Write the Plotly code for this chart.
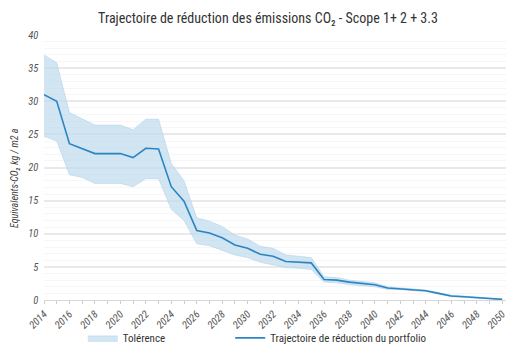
import plotly.graph_objects as go

years = list(range(2014, 2051))
trajectory = [31.0, 30.0, 23.6, 22.9, 22.1, 22.1, 22.1, 21.5, 22.9, 22.8,
              17.1, 14.9, 10.5, 10.1, 9.4, 8.3, 7.8, 6.9, 6.6, 5.8,
              5.7, 5.6, 3.1, 3.0, 2.7, 2.5, 2.3, 1.8, 1.7, 1.5,
              1.4, 1.0, 0.6, 0.5, 0.35, 0.2, 0.1]
upper = [37.0, 35.8, 28.3, 27.4, 26.4, 26.4, 26.4, 25.7, 27.3, 27.3,
         20.6, 18.0, 12.4, 11.9, 11.1, 9.8, 9.2, 8.1, 7.8, 6.8,
         6.6, 6.4, 3.5, 3.4, 3.0, 2.8, 2.6, 2.0, 1.8, 1.6,
         1.5, 1.1, 0.7, 0.6, 0.4, 0.25, 0.15]
lower = [24.7, 24.0, 18.9, 18.5, 17.6, 17.6, 17.6, 17.1, 18.3, 18.3,
         13.7, 12.0, 8.5, 8.2, 7.5, 6.8, 6.4, 5.7, 5.3, 4.9,
         4.8, 4.6, 2.7, 2.6, 2.3, 2.2, 2.0, 1.6, 1.6, 1.4,
         1.3, 0.9, 0.5, 0.4, 0.3, 0.15, 0.05]

font_main = "Liberation Sans Narrow, Roboto Condensed, Roboto, Arial"

fig = go.Figure()
fig.add_trace(go.Scatter(x=years, y=lower, mode="lines",
                         line=dict(width=0.6, color="rgba(175,208,232,0.9)"),
                         showlegend=False, hoverinfo="skip"))
fig.add_trace(go.Scatter(x=years, y=upper, mode="lines", fill="tonexty",
                         fillcolor="rgba(190,218,238,0.7)",
                         line=dict(width=0.6, color="rgba(175,208,232,0.9)"),
                         name="Tolérence", legend="legend"))
fig.add_trace(go.Scatter(x=years, y=trajectory, mode="lines",
                         line=dict(width=1.6, color="#2b85c2"),
                         name="Trajectoire de réduction du portfolio", legend="legend2"))

leg_common = dict(orientation="h", yanchor="middle", y=-0.143, xanchor="left",
                  font=dict(size=11, color="#333"), itemwidth=30,
                  bgcolor="rgba(0,0,0,0)")

fig.update_layout(
    width=520, height=356,
    margin=dict(l=36, r=22, t=27, b=64, autoexpand=False),
    paper_bgcolor="white", plot_bgcolor="white",
    font=dict(family=font_main, color="#444", size=11),
    title=dict(text="Trajectoire de réduction des émissions CO₂ - Scope 1+ 2 + 3.3",
               x=0.5, xanchor="center", y=0.985, yanchor="top",
               font=dict(size=14, color="#333", family=font_main)),
    legend=dict(x=0.084, **leg_common),
    legend2=dict(x=0.403, **leg_common),
    xaxis=dict(range=[2014, 2050.3], tickmode="array",
               tickvals=list(range(2014, 2051, 2)),
               ticktext=[str(y) for y in range(2014, 2051, 2)],
               tickangle=-45, showgrid=False, zeroline=False,
               showline=True, linecolor="#d9d9d9", linewidth=1,
               ticks="outside", ticklen=3, tickcolor="#cccccc",
               minor=dict(dtick=1, ticks="outside", ticklen=3, tickcolor="#cccccc"),
               tickfont=dict(size=10.5, color="#555", style="italic")),
    yaxis=dict(range=[0, 40], dtick=5, showgrid=True, gridcolor="#e9e9e9", gridwidth=1.5,
               zeroline=False, showline=False,
               minor=dict(dtick=1, showgrid=True, gridcolor="#f6f6f6", gridwidth=1),
               tickfont=dict(size=10.5, color="#555", style="italic"),
               ticksuffix="  "),
    annotations=[dict(text="Equivalents-CO₂ kg / m2 a", textangle=-90,
                      xref="paper", yref="paper", x=-0.065, y=0.46,
                      xanchor="center", yanchor="middle", showarrow=False,
                      font=dict(size=10, color="#444", style="italic"))],
)

fig.write_html("out.html")
